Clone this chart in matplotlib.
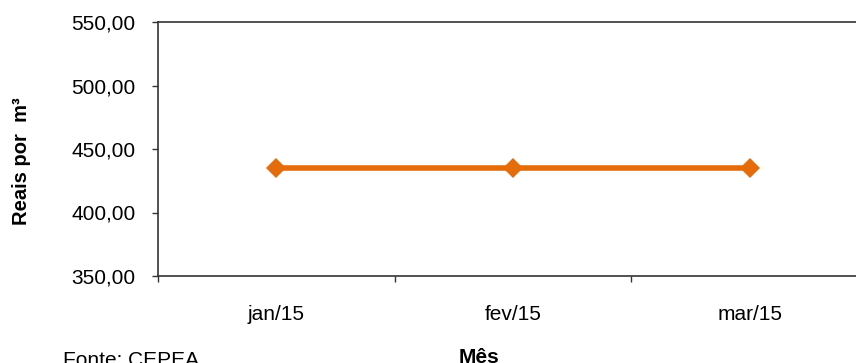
import matplotlib
matplotlib.use('Agg')
import matplotlib.pyplot as plt
from matplotlib.ticker import FuncFormatter, FixedLocator

plt.rcParams['font.family'] = ['Liberation Sans', 'DejaVu Sans']

months = ['jan/15', 'fev/15', 'mar/15']
prices = [435.0, 435.0, 435.0]
y_ticks = [350, 400, 450, 500, 550]

W, H = 856, 363
fig = plt.figure(figsize=(W / 100, H / 100), dpi=100, facecolor='white')
ax = fig.add_axes([158 / W, (H - 276) / H, 710 / W, 254 / H])

x = list(range(len(months)))
ax.plot(x, prices, color='#E46C0A', linewidth=4, marker='D',
        markersize=10, markeredgewidth=0, solid_capstyle='butt')

ax.set_xlim(-0.5, len(months) - 0.5)
ax.set_ylim(350, 550)
ax.set_yticks(y_ticks)
ax.yaxis.set_major_formatter(FuncFormatter(lambda v, p: f'{v:.2f}'.replace('.', ',')))
ax.set_xticks(x)
ax.set_xticklabels(months)
ax.xaxis.set_minor_locator(FixedLocator([i - 0.5 for i in range(len(months) + 1)]))

spine_col = '#333333'
for side in ['left', 'bottom', 'top']:
    ax.spines[side].set_color(spine_col)
    ax.spines[side].set_linewidth(1.2)
ax.spines['right'].set_visible(False)

ax.tick_params(axis='y', direction='out', length=4.3, width=1, color=spine_col,
               labelsize=15, pad=12, labelcolor='black')
ax.tick_params(axis='x', which='major', length=0, labelsize=15, pad=21,
               labelcolor='black')
ax.tick_params(axis='x', which='minor', direction='out', length=4.3, width=1,
               color=spine_col)

fig.text(22 / W, 1 - 161 / H, 'Reais por  m³', rotation=90, ha='center',
         va='center', fontsize=14.5, fontweight='bold')
# bottom texts sit partly below the canvas edge, as in the source image
fig.text(479 / W, 0 / H, 'Mês', ha='center', va='baseline', fontsize=15,
         fontweight='bold')
fig.text(63 / W, -3 / H, 'Fonte: CEPEA', ha='left', va='baseline', fontsize=15)

fig.savefig('out.png', dpi=100, facecolor='white')
